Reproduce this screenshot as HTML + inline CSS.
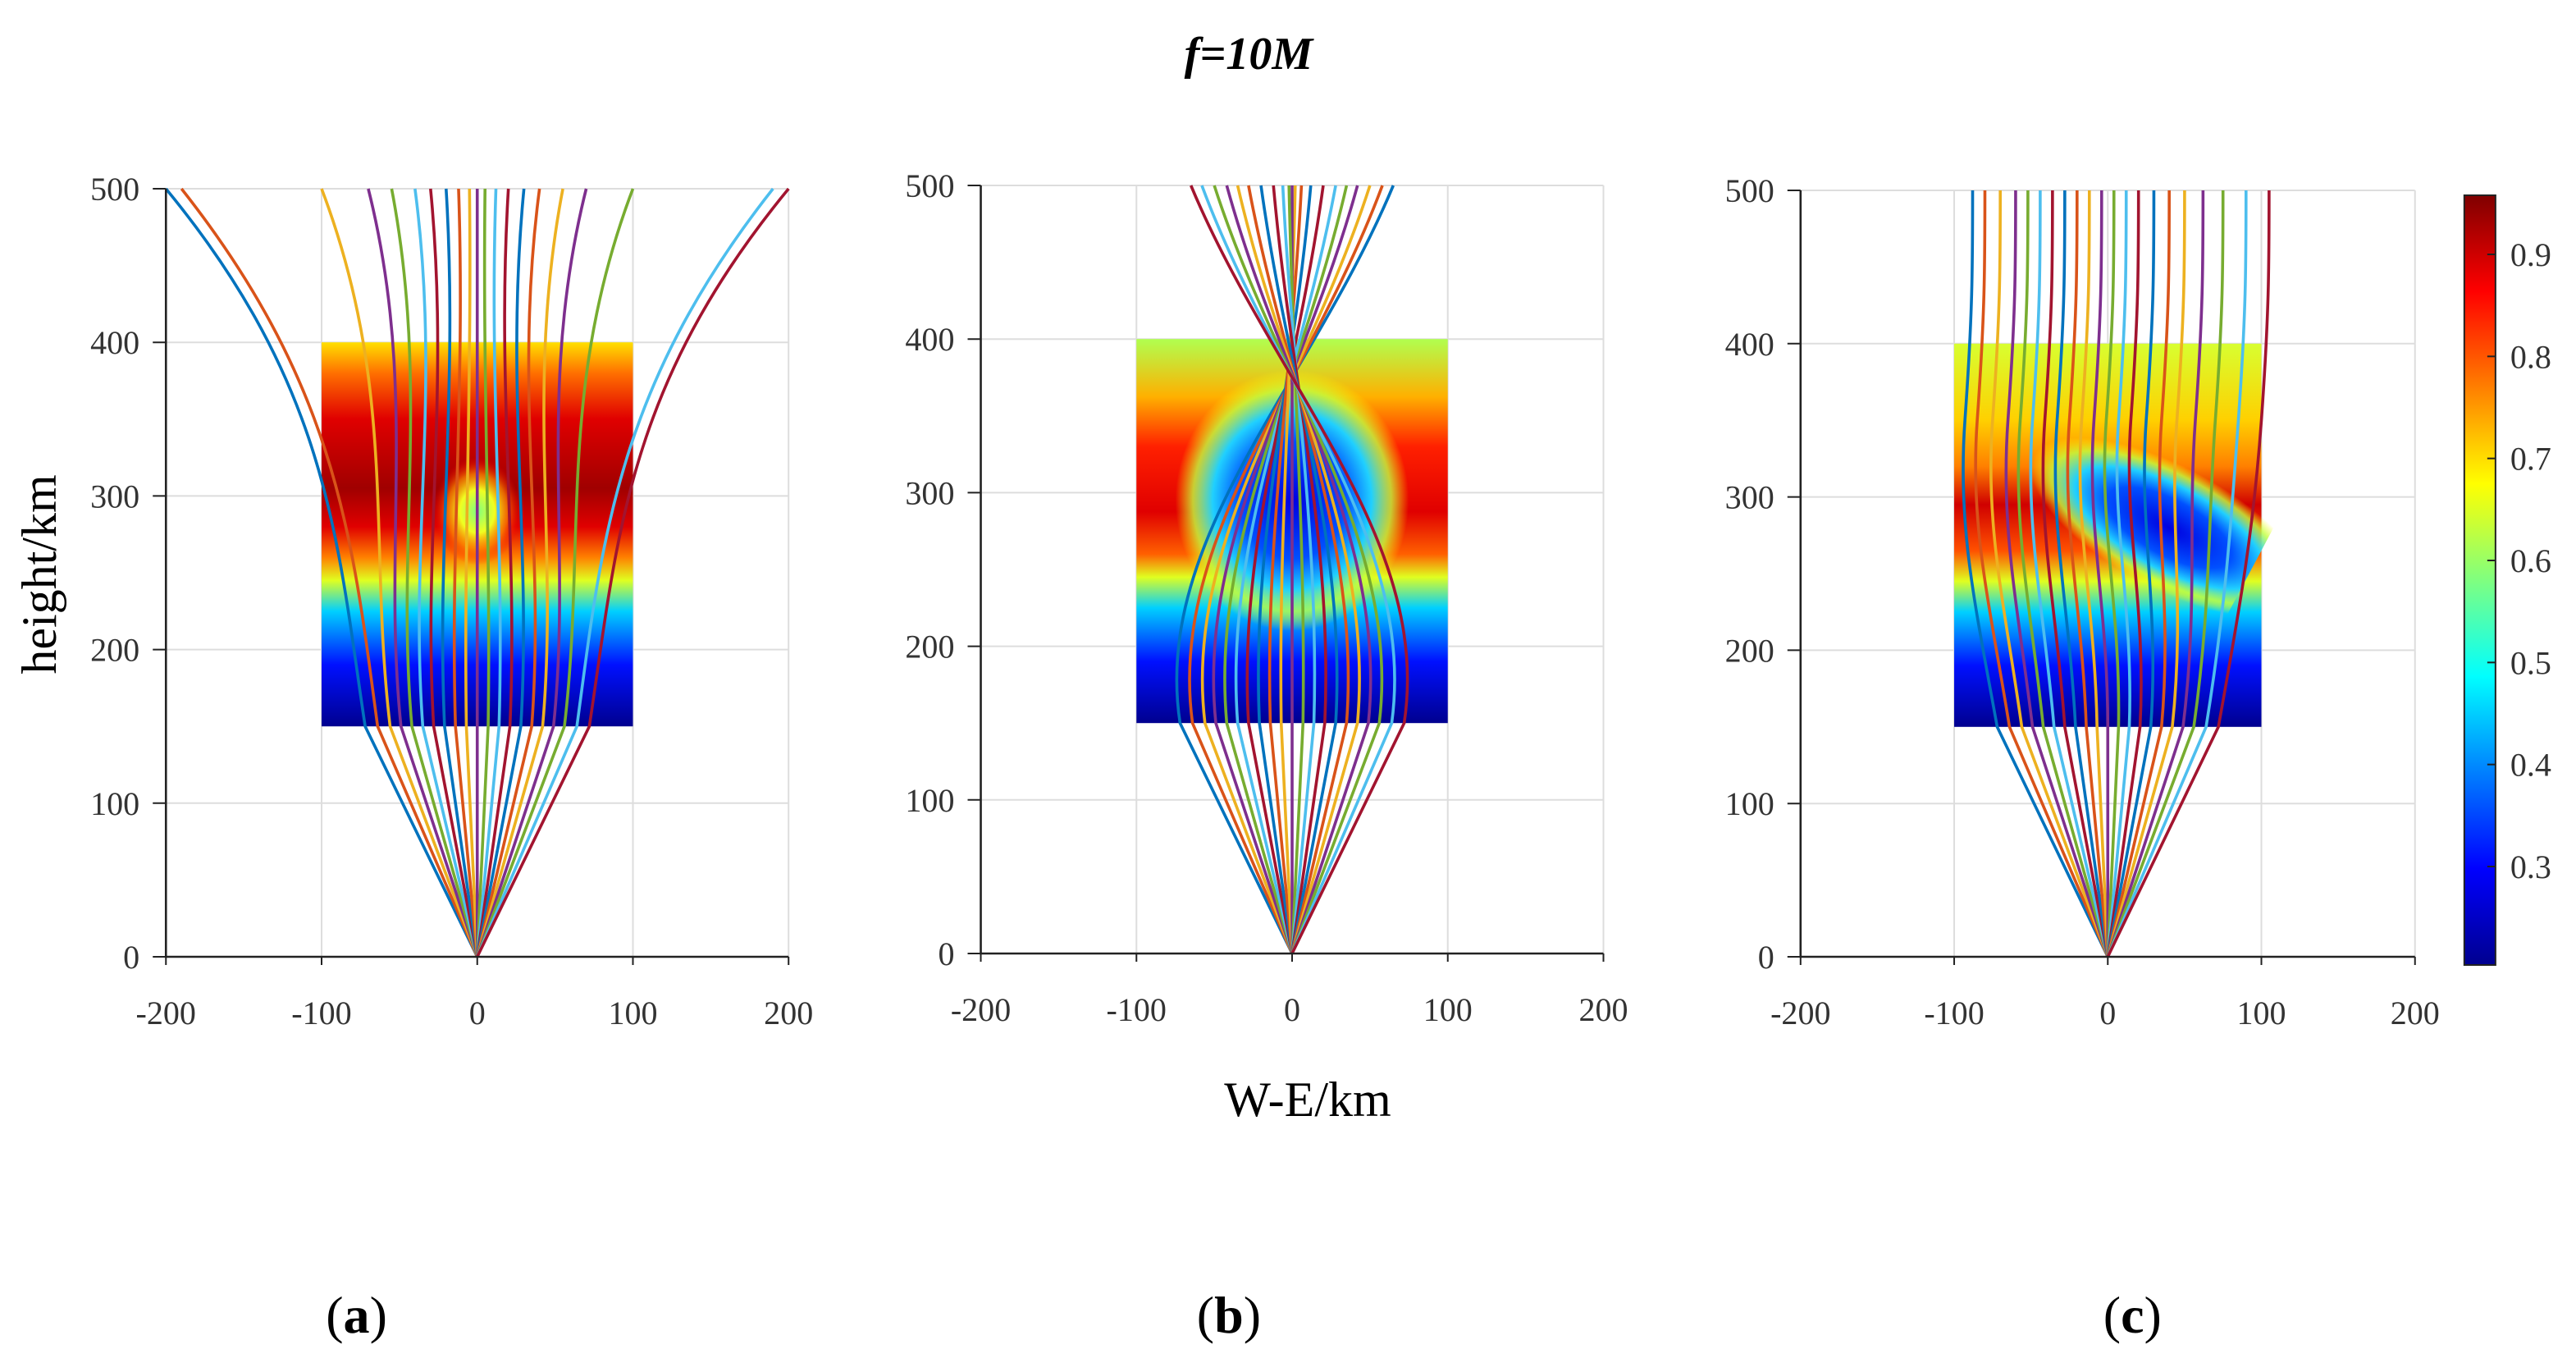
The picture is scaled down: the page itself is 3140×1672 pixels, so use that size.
<!DOCTYPE html>
<html><head><meta charset="utf-8"><style>
html,body{margin:0;padding:0;background:#fff}
svg{display:block}
text{font-family:"Liberation Serif",serif}
</style></head><body>
<svg id="fig" width="3140" height="1672" viewBox="0 0 1568 836" preserveAspectRatio="none">
<defs>
<linearGradient id="gA" x1="0" y1="1" x2="0" y2="0">
<stop offset="0" stop-color="#00008f"/><stop offset="0.16" stop-color="#0010ff"/><stop offset="0.3" stop-color="#00d0ff"/><stop offset="0.38" stop-color="#e0ff20"/><stop offset="0.44" stop-color="#ff8000"/><stop offset="0.52" stop-color="#e00000"/><stop offset="0.62" stop-color="#a00000"/><stop offset="0.8" stop-color="#e00000"/><stop offset="0.92" stop-color="#ff7000"/><stop offset="1" stop-color="#ffe000"/></linearGradient>
<linearGradient id="gB" x1="0" y1="1" x2="0" y2="0">
<stop offset="0" stop-color="#00008f"/><stop offset="0.16" stop-color="#0010ff"/><stop offset="0.3" stop-color="#00d0ff"/><stop offset="0.38" stop-color="#e0ff20"/><stop offset="0.44" stop-color="#ff6000"/><stop offset="0.55" stop-color="#e00000"/><stop offset="0.72" stop-color="#ff2000"/><stop offset="0.85" stop-color="#ffb000"/><stop offset="1" stop-color="#b0ff50"/></linearGradient>
<linearGradient id="gC" x1="0" y1="1" x2="0" y2="0">
<stop offset="0" stop-color="#00008f"/><stop offset="0.16" stop-color="#0010ff"/><stop offset="0.3" stop-color="#00d0ff"/><stop offset="0.38" stop-color="#e0ff20"/><stop offset="0.46" stop-color="#ff5000"/><stop offset="0.58" stop-color="#d00000"/><stop offset="0.68" stop-color="#ff8000"/><stop offset="0.8" stop-color="#ffd000"/><stop offset="1" stop-color="#d8ff30"/></linearGradient>
<radialGradient id="bA"><stop offset="0" stop-color="#80ff80"/><stop offset="0.4" stop-color="#f0ff20"/><stop offset="0.7" stop-color="#ff9000" stop-opacity="0.7"/><stop offset="1" stop-color="#ff0000" stop-opacity="0"/></radialGradient>
<radialGradient id="bB"><stop offset="0" stop-color="#0000e0"/><stop offset="0.45" stop-color="#0050ff"/><stop offset="0.68" stop-color="#20d0ff"/><stop offset="0.85" stop-color="#c0ff40" stop-opacity="0.8"/><stop offset="1" stop-color="#ffff00" stop-opacity="0"/></radialGradient>
<linearGradient id="cbar" x1="0" y1="1" x2="0" y2="0">
<stop offset="0" stop-color="#00008f"/><stop offset="0.125" stop-color="#0000ff"/><stop offset="0.375" stop-color="#00ffff"/><stop offset="0.625" stop-color="#ffff00"/><stop offset="0.875" stop-color="#ff0000"/><stop offset="1" stop-color="#800000"/></linearGradient>
</defs>
<text x="760" y="42" font-size="28" font-style="italic" font-weight="bold" text-anchor="middle">f=10M</text>
<text transform="translate(34,350) rotate(-90)" font-size="30" text-anchor="middle">height/km</text>
<text x="796" y="680" font-size="30" text-anchor="middle">W-E/km</text>
<text x="217" y="812" font-size="32" text-anchor="middle">(<tspan font-weight="bold">a</tspan>)</text>
<text x="748" y="812" font-size="32" text-anchor="middle">(<tspan font-weight="bold">b</tspan>)</text>
<text x="1298" y="812" font-size="32" text-anchor="middle">(<tspan font-weight="bold">c</tspan>)</text>
<g id="panels"></g>
<g>
<rect x="1500" y="119" width="19" height="469" fill="url(#cbar)" stroke="#222" stroke-width="1"/>
<g id="cbticks"></g>
</g>
</svg>
<script>
const xTicks=[-200,-100,0,100,200];
const yTicks=[0,100,200,300,400,500];
const cbTicks=[0.3,0.4,0.5,0.6,0.7,0.8,0.9];
const launchOffsets=[-72,-64,-56,-49,-42,-35,-28,-21,-14,-7,0,7,14,21,28,35,42,49,56,64,72];
const endA=[-200,-190,-100,-70,-55,-40,-30,-20,-12,-5,0,5,12,20,30,40,55,70,100,190,200];
const endB=[65,58,50,42,35,28,20,12,6,2,0,-2,-6,-12,-20,-28,-35,-42,-50,-58,-65];
const endC=[-88,-80,-70,-60,-52,-44,-36,-28,-20,-12,-4,4,12,20,30,40,50,62,75,90,105];
const panels=[{x0:101,x1:480,y0:583,y1:115,grad:'gA',end:endA,name:'a'},{x0:597,x1:976,y0:581,y1:113,grad:'gB',end:endB,name:'b'},{x0:1096,x1:1470,y0:583,y1:116,grad:'gC',end:endC,name:'c'}];
const colors=['#0072BD','#D95319','#EDB120','#7E2F8E','#77AC30','#4DBEEE','#A2142F'];
const NS='http://www.w3.org/2000/svg';
function mk(t,a,p){const e=document.createElementNS(NS,t);for(const k in a)e.setAttribute(k,a[k]);p.appendChild(e);return e;}
const root=document.getElementById('panels');
panels.forEach(P=>{
 const sx=v=>P.x0+(v+200)/400*(P.x1-P.x0), sy=h=>P.y0+(h/500)*(P.y1-P.y0);
 const g=mk('g',{},root);
 
 
 xTicks.forEach(t=>{const l=mk('line',{x1:sx(t),x2:sx(t),y1:sy(0),y2:sy(500),stroke:'#ddd','stroke-width':1},g);});
 yTicks.forEach(t=>{const l=mk('line',{x1:sx(-200),x2:sx(200),y1:sy(t),y2:sy(t),stroke:'#ddd','stroke-width':1},g);});
 const hm=mk('rect',{x:sx(-100),y:sy(400),width:sx(100)-sx(-100),height:sy(150)-sy(400),fill:'url(#'+P.grad+')'},g);
 
 
 const cp='clip'+P.name;
 const c=mk('clipPath',{id:cp},g);mk('rect',{x:sx(-100),y:sy(400),width:sx(100)-sx(-100),height:sy(150)-sy(400)},c);
 let blob;
 if(P.name==='a') blob=mk('ellipse',{cx:sx(0),cy:sy(290),rx:sx(28)-sx(0),ry:sy(255)-sy(290),fill:'url(#bA)','clip-path':'url(#'+cp+')'},g);
 if(P.name==='b') blob=mk('ellipse',{cx:sx(0),cy:sy(295),rx:sx(75)-sx(0),ry:sy(205)-sy(290),fill:'url(#bB)','clip-path':'url(#'+cp+')'},g);
 if(P.name==='c') blob=mk('ellipse',{cx:sx(40),cy:sy(280),rx:sx(100)-sx(0),ry:sy(250)-sy(290),fill:'url(#bB)','clip-path':'url(#'+cp+')',transform:'rotate(28 '+sx(40)+' '+sy(280)+')'},g);
 
 
 launchOffsets.forEach((o,i)=>{
  const e=P.end[i];
  let d;
  if(P.name==='c') d=`M${sx(0)},${sy(0)} L${sx(o)},${sy(150)} C${sx(o*1.2)},${sy(230)} ${sx(e-10)},${sy(280)} ${sx(e-5)},${sy(350)} S${sx(e)},${sy(450)} ${sx(e)},${sy(500)}`;
  else d=`M${sx(0)},${sy(0)} L${sx(o)},${sy(150)} C${sx(o*1.25)},${sy(270)} ${sx(e*0.4+o*0.2)},${sy(370)} ${sx(e)},${sy(500)}`;
  const p=mk('path',{d:d,fill:'none',stroke:colors[i%7],'stroke-width':1.8},g);
  
  
 });
 const ax=mk('path',{d:`M${sx(-200)},${sy(500)} V${sy(0)} H${sx(200)}`,fill:'none',stroke:'#222','stroke-width':1.3},g);
 
 
 xTicks.forEach(t=>{mk('line',{x1:sx(t),x2:sx(t),y1:sy(0),y2:sy(0)+5,stroke:'#222'},g);const tx=mk('text',{x:sx(t),y:sy(0)+41,'font-size':20,'text-anchor':'middle',fill:'#333'},g);tx.textContent=t;});
 yTicks.forEach(t=>{mk('line',{x1:sx(-200)-8,x2:sx(-200),y1:sy(t),y2:sy(t),stroke:'#222'},g);const tx=mk('text',{x:sx(-200)-16,y:sy(t)+7,'font-size':20,'text-anchor':'end',fill:'#333'},g);tx.textContent=t;});
});
const cb=document.getElementById('cbticks');
cbTicks.forEach(t=>{const y=528-(t-0.3)/0.6*(528-155);mk('line',{x1:1514,x2:1519,y1:y,y2:y,stroke:'#222'},cb);const tx=mk('text',{x:1528,y:y+7,'font-size':20,fill:'#333'},cb);tx.textContent=t;});
</script>
</body></html>
